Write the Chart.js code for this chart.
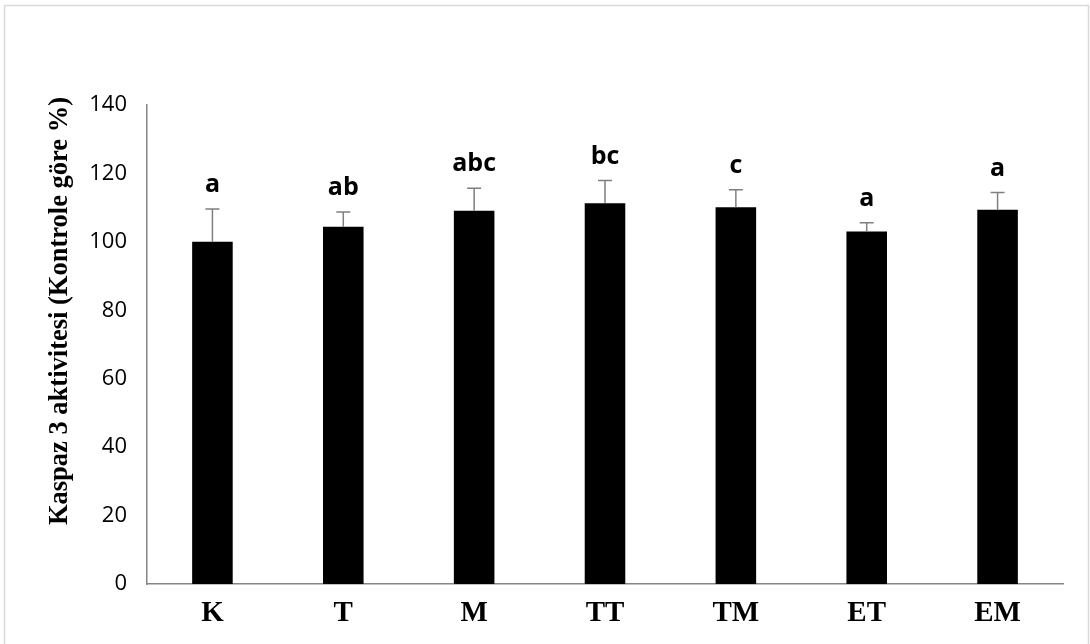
<!DOCTYPE html>
<html>
<head>
<meta charset="utf-8">
<script src="https://cdn.jsdelivr.net/npm/chart.js@4/dist/chart.umd.min.js"></script>
<style>
  html, body { margin: 0; padding: 0; background: #fff; }
  #wrap { width: 1090px; height: 644px; position: relative; }
</style>
</head>
<body>
<div id="wrap"><canvas id="grafico"></canvas></div>
<script>
const gruplar = ['K', 'T', 'M', 'TT', 'TM', 'ET', 'EM'];
const ortalamalar = [100, 104.4, 109.1, 111.3, 110.1, 103.0, 109.4];
const hatalar = [9.6, 4.3, 6.6, 6.6, 5.1, 2.6, 5.0];
const harfler = ['a', 'ab', 'abc', 'bc', 'c', 'a', 'a'];
const yMin = 0, yMax = 140, yAdim = 20;
const yBaslik = 'Kaspaz 3 aktivitesi (Kontrole göre %)';

// cerceve, hata cubuklari, harfler ve y basligi
const ekler = {
    id: 'ekler',
    beforeDraw(chart) {
        const ctx = chart.ctx;
        ctx.save();
        ctx.fillStyle = '#ffffff';
        ctx.fillRect(0, 0, chart.width, chart.height);
        ctx.strokeStyle = '#d9d9d9';
        ctx.lineWidth = 1.5;
        ctx.strokeRect(4.5, 5.5, chart.width - 6, chart.height - 4);
        ctx.restore();
    },
    afterDatasetsDraw(chart) {
        const ctx = chart.ctx;
        const y = chart.scales.y;
        const meta = chart.getDatasetMeta(0);
        ctx.save();
        meta.data.forEach((bar, i) => {
            const ust = y.getPixelForValue(ortalamalar[i] + hatalar[i]);
            const alt = y.getPixelForValue(ortalamalar[i]);
            ctx.strokeStyle = '#7f7f7f';
            ctx.lineWidth = 1.5;
            ctx.beginPath();
            ctx.moveTo(bar.x, alt);
            ctx.lineTo(bar.x, ust);
            ctx.moveTo(bar.x - 7, ust);
            ctx.lineTo(bar.x + 7, ust);
            ctx.stroke();

            ctx.fillStyle = '#000';
            ctx.font = 'bold 25px "Open Sans"';
            ctx.textAlign = 'center';
            ctx.textBaseline = 'middle';
            ctx.fillText(harfler[i], bar.x, ust - 24);
        });

        ctx.translate(60, 311);
        ctx.rotate(-Math.PI / 2);
        ctx.fillStyle = '#000';
        ctx.font = 'bold 26.5px "Liberation Serif"';
        ctx.textAlign = 'center';
        ctx.textBaseline = 'middle';
        ctx.fillText(yBaslik, 0, 0);
        ctx.restore();
    }
};

new Chart(document.getElementById('grafico'), {
    type: 'bar',
    data: {
        labels: gruplar,
        datasets: [{
            data: ortalamalar,
            backgroundColor: '#000000',
            borderColor: '#000000',
            borderWidth: 0,
            barPercentage: 0.31,
            categoryPercentage: 1.0
        }]
    },
    options: {
        responsive: true,
        maintainAspectRatio: false,
        animation: false,
        layout: { padding: { top: 105, right: 27, left: 0, bottom: 0 } },
        plugins: {
            legend: { display: false },
            tooltip: { enabled: false }
        },
        scales: {
            x: {
                grid: { display: false, drawTicks: false },
                border: { display: true, color: '#868686', width: 1.5 },
                ticks: {
                    color: '#000',
                    padding: 12,
                    font: { family: '"Liberation Serif"', weight: 'bold', size: 29 }
                },
                afterFit(scale) { scale.height = 60; }
            },
            y: {
                min: yMin,
                max: yMax,
                grid: { display: false, drawTicks: false },
                border: { display: true, color: '#868686', width: 1.5 },
                ticks: {
                    stepSize: yAdim,
                    color: '#000',
                    padding: 20,
                    font: { family: '"Open Sans"', size: 22 }
                },
                afterFit(scale) { scale.width = 147; }
            }
        }
    },
    plugins: [ekler]
});
</script>
</body>
</html>
